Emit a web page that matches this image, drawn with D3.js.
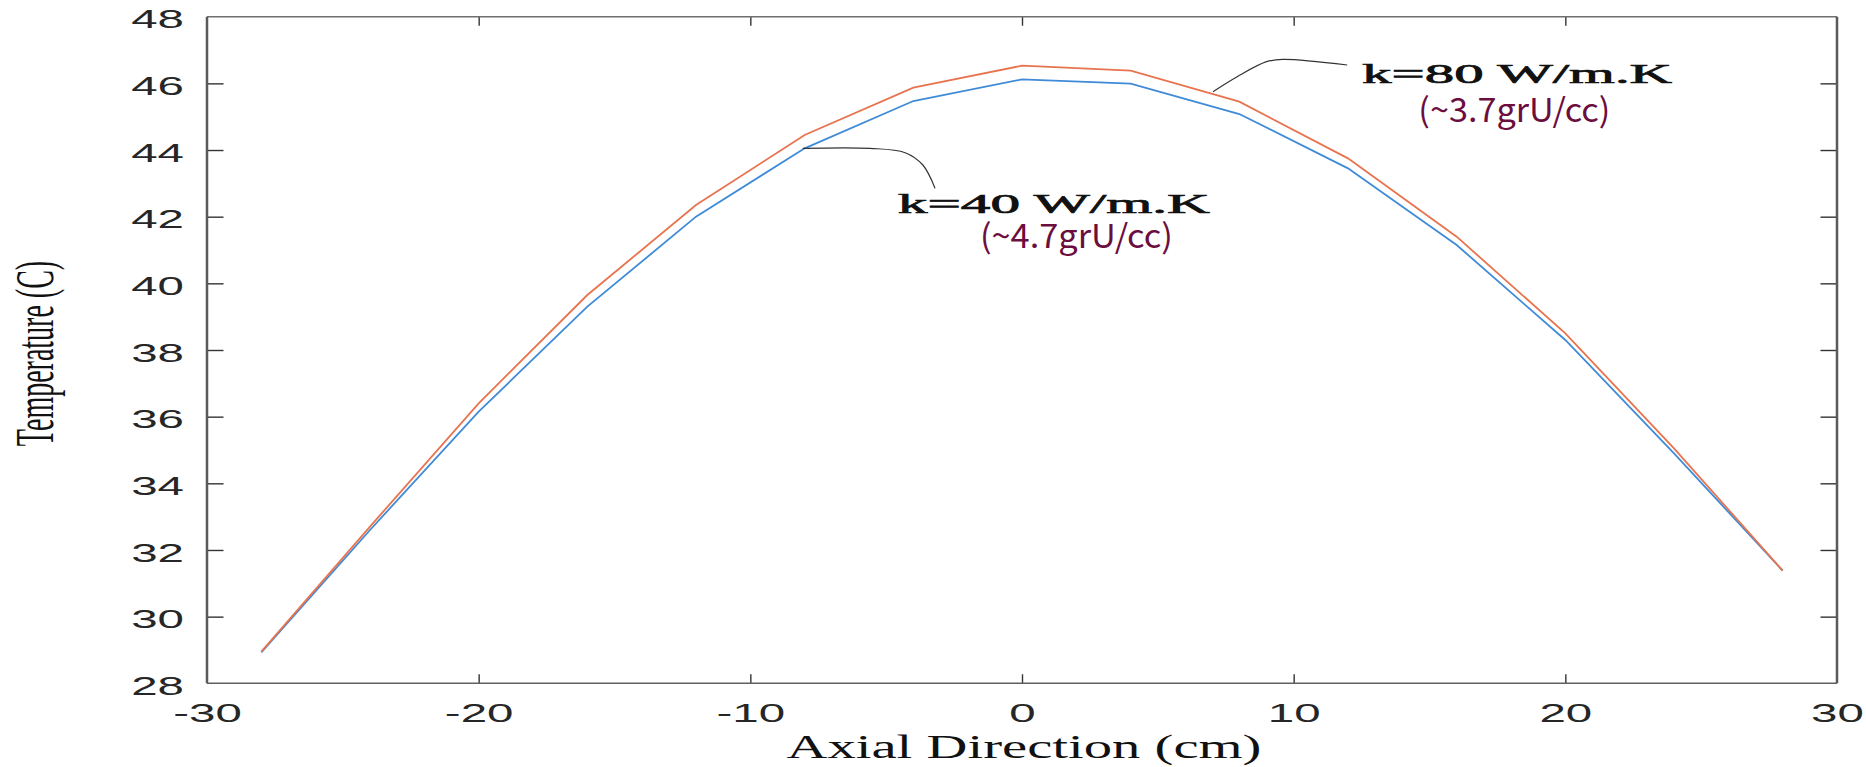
<!DOCTYPE html>
<html>
<head>
<meta charset="utf-8">
<script src="https://cdn.jsdelivr.net/npm/d3@7"></script>
<style>
  html, body { margin: 0; padding: 0; background: #ffffff; }
  svg { display: block; }
</style>
</head>
<body>
<svg id="chart" width="1866" height="767"></svg>
<script>
// ---- data ----
const axialPos = [-28, -24, -20, -16, -12, -8, -4, 0, 4, 8, 12, 16, 20, 24, 28];
const tempK40 = [28.93, 32.6, 36.15, 39.3, 42.0, 44.05, 45.47, 46.12, 45.99, 45.08, 43.45, 41.15, 38.3, 34.9, 31.38];
const tempK80 = [28.95, 32.7, 36.4, 39.65, 42.35, 44.45, 45.87, 46.53, 46.38, 45.45, 43.75, 41.4, 38.5, 35.05, 31.38];
const xTickValues = [-30, -20, -10, 0, 10, 20, 30];
const yTickValues = [28, 30, 32, 34, 36, 38, 40, 42, 44, 46, 48];
const xTitle = "Axial Direction (cm)";
const yTitle = "Temperature (C)";
const labelK40 = "k=40 W/m.K";
const subK40 = "(~4.7grU/cc)";
const labelK80 = "k=80 W/m.K";
const subK80 = "(~3.7grU/cc)";
// leader curves in data units
const leaderK40 = [[-8.07, 44.05], [-5.6, 44.05], [-4.3, 43.92], [-3.65, 43.55], [-3.2, 42.85]];
const leaderK80 = [[7.03, 45.75], [7.92, 46.2], [9.0, 46.65], [9.6, 46.72], [11.97, 46.55]];
// annotation anchor positions in data units
const posK40 = [-4.57, 42.11], posSubK40 = [-1.55, 41.06];
const posK80 = [12.52, 46.01], posSubK80 = [14.59, 44.84];

// ---- layout ----
const L = 207, R = 1837, T = 16.7, B = 683.3;
const SX = 1.9; // horizontal stretch of the original figure text
const svg = d3.select("#chart");
svg.append("rect").attr("width", 1866).attr("height", 767).attr("fill", "#fff");

const x = d3.scaleLinear().domain([-30, 30]).range([L, R]);
const y = d3.scaleLinear().domain([28, 48]).range([B, T]);
const fmt = d => String(d); // plain hyphen-minus like the reference

// axes (ticks inward)
const gx = svg.append("g").attr("transform", `translate(0,${B})`)
  .call(d3.axisBottom(x).tickValues(xTickValues).tickSizeInner(-9).tickSizeOuter(0).tickFormat(fmt));
const gy = svg.append("g").attr("transform", `translate(${L},0)`)
  .call(d3.axisLeft(y).tickValues(yTickValues).tickSizeInner(-16.5).tickSizeOuter(0).tickFormat(fmt));
const gxt = svg.append("g").attr("transform", `translate(0,${T})`)
  .call(d3.axisTop(x).tickValues(xTickValues).tickSizeInner(-9).tickSizeOuter(0).tickFormat(""));
const gyr = svg.append("g").attr("transform", `translate(${R},0)`)
  .call(d3.axisRight(y).tickValues(yTickValues).tickSizeInner(-16.5).tickSizeOuter(0).tickFormat(""));

[gx, gy, gxt, gyr].forEach(g => {
  g.select(".domain").remove();
  g.selectAll(".tick line").attr("stroke", "#333").attr("stroke-width", 1.4);
});
gx.selectAll(".tick text")
  .attr("font-family", "'Liberation Sans', Arial, sans-serif")
  .attr("font-size", 25).attr("fill", "#262626")
  .attr("y", 38.7).attr("dy", 0)
  .attr("text-anchor", "middle")
  .attr("transform", `scale(${SX},1)`);
gy.selectAll(".tick text")
  .attr("font-family", "'Liberation Sans', Arial, sans-serif")
  .attr("font-size", 25).attr("fill", "#262626")
  .attr("x", 0).attr("dy", "0.45em")
  .attr("text-anchor", "end")
  .attr("transform", `translate(-23,0) scale(${SX},1)`);
// remove edge tick lines that coincide with the frame
[gx, gxt].forEach(g => g.selectAll(".tick line").filter(d => d === -30 || d === 30).remove());
[gy, gyr].forEach(g => g.selectAll(".tick line").filter(d => d === 28 || d === 48).remove());

// frame
const frame = svg.append("g");
frame.append("line").attr("x1", L).attr("x2", R).attr("y1", T).attr("y2", T).attr("stroke", "#707070").attr("stroke-width", 1.5);
frame.append("line").attr("x1", L).attr("x2", R).attr("y1", B).attr("y2", B).attr("stroke", "#606060").attr("stroke-width", 1.5);
frame.append("line").attr("x1", L).attr("x2", L).attr("y1", T).attr("y2", B).attr("stroke", "#5a5a5a").attr("stroke-width", 2.5);
frame.append("line").attr("x1", R).attr("x2", R).attr("y1", T).attr("y2", B).attr("stroke", "#5a5a5a").attr("stroke-width", 2.5);

// data lines
const line = d3.line().x(d => x(d[0])).y(d => y(d[1]));
svg.append("path").datum(axialPos.map((p, i) => [p, tempK40[i]]))
  .attr("d", line).attr("fill", "none").attr("stroke", "#3f8bd8").attr("stroke-width", 1.8);
svg.append("path").datum(axialPos.map((p, i) => [p, tempK80[i]]))
  .attr("d", line).attr("fill", "none").attr("stroke", "#e8734f").attr("stroke-width", 1.8);

// leader curves
const curve = d3.line().x(d => x(d[0])).y(d => y(d[1])).curve(d3.curveCatmullRom.alpha(0.5));
[leaderK40, leaderK80].forEach(pts => {
  svg.append("path").datum(pts).attr("d", curve)
    .attr("fill", "none").attr("stroke", "#333").attr("stroke-width", 1.2);
});

// annotations
function annot(pos, txt, len, opts) {
  svg.append("text")
    .attr("x", x(pos[0])).attr("y", y(pos[1]))
    .attr("font-family", opts.family)
    .attr("font-size", opts.size)
    .attr("font-weight", opts.weight || "normal")
    .attr("fill", opts.fill)
    .attr("stroke", opts.stroke || "none")
    .attr("stroke-width", opts.strokeWidth || 0)
    .attr("textLength", len).attr("lengthAdjust", "spacingAndGlyphs")
    .text(txt);
}
const serif = { family: "'Liberation Serif', 'Times New Roman', serif", size: 28, fill: "#111", stroke: "#111", strokeWidth: 0.7 };
const cjk = { family: "'Noto Sans CJK JP', sans-serif", size: 33, fill: "#6b0e3e" };
annot(posK40, labelK40, 312, serif);
annot(posSubK40, subK40, 193, cjk);
annot(posK80, labelK80, 310, serif);
annot(posSubK80, subK80, 192, cjk);

// axis titles
svg.append("text")
  .attr("x", (L + R) / 2 + 2).attr("y", 758)
  .attr("text-anchor", "middle")
  .attr("font-family", "'Liberation Serif', 'Times New Roman', serif")
  .attr("font-size", 34).attr("fill", "#111")
  .attr("textLength", 475).attr("lengthAdjust", "spacingAndGlyphs")
  .text(xTitle);
svg.append("text")
  .attr("transform", `translate(53,353.5) scale(1.95,1) rotate(-90)`)
  .attr("text-anchor", "middle")
  .attr("font-family", "'Liberation Serif', 'Times New Roman', serif")
  .attr("font-size", 28).attr("fill", "#111")
  .text(yTitle);
</script>
</body>
</html>
